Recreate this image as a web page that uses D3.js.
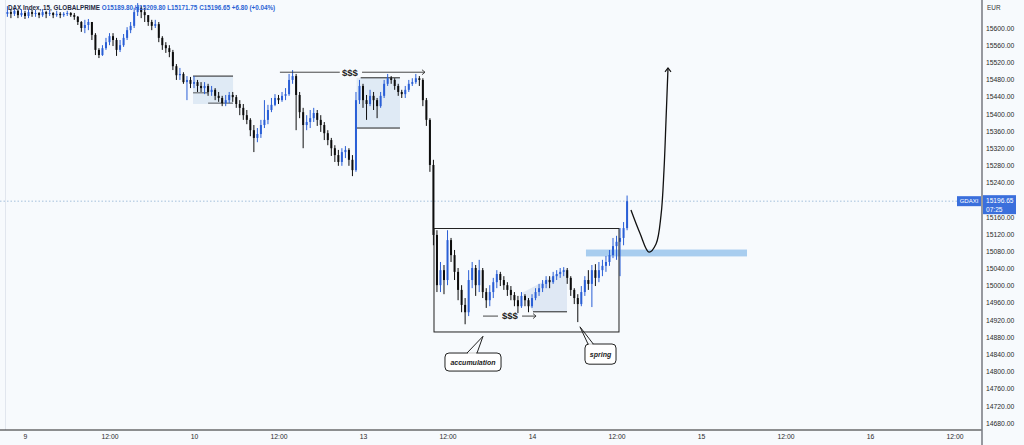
<!DOCTYPE html>
<html><head><meta charset="utf-8">
<script src="https://cdn.jsdelivr.net/npm/d3@7"></script>
<style>html,body{margin:0;padding:0;background:#f7fafd;}svg{display:block;}</style>
</head><body>
<svg id="chart" width="1024" height="445"></svg>
<script>
// ---------- data ----------
const firstOpen = 15633;
const barStartHour = -2.5;   // hours relative to day "9" 00:00 (trading-day axis)
const barStepHour = 0.5;
const closes = [
15637,15633,15640,15630,15635,15628,15637,15633,15635,15630,
15637,15633,15635,15630,15633,15630,15633,15635,15630,15626,
15614,15600,15607,15614,15584,15549,15537,15553,15567,15581,
15572,15549,15560,15577,15595,15605,15637,15647,15637,15630,
15614,15605,15609,15577,15560,15553,15544,15511,15490,15493,
15474,15479,15470,15474,15465,15460,15465,15451,15456,15442,
15437,15425,15432,15444,15439,15423,15414,15397,15386,15362,
15344,15353,15374,15386,15409,15421,15437,15432,15442,15446,
15479,15488,15444,15404,15374,15381,15390,15402,15386,15374,
15355,15339,15320,15304,15288,15311,15316,15293,15269,15432,
15465,15432,15423,15442,15432,15418,15442,15470,15483,15479,
15465,15451,15446,15456,15470,15474,15483,15479,15432,15386,
15281,15118,15001,15036,15013,15106,15071,15032,14990,14955,
14938,15013,15041,15001,15036,14985,14966,14985,15008,15027,
15013,15001,14990,14978,14966,14952,14976,14966,14952,14971,
14985,14994,15004,15013,15008,15022,15027,15032,15036,15018,
14990,14971,14957,14985,15013,15004,15036,15018,15036,15046,
15055,15071,15092,15102,15111,15134,15196.65];
const highs = [
15651,15644,15647,15642,15644,15640,15644,15642,15642,15637,
15644,15640,15642,15637,15640,15637,15637,15640,15637,15635,
15628,15616,15619,15621,15614,15588,15553,15560,15577,15588,
15588,15577,15572,15586,15602,15614,15647,15658,15651,15647,
15630,15619,15619,15614,15581,15567,15560,15549,15516,15507,
15497,15488,15486,15488,15479,15474,15474,15470,15465,15460,
15451,15442,15444,15451,15451,15444,15432,15423,15409,15390,
15374,15367,15386,15432,15421,15437,15446,15444,15451,15460,
15493,15502,15493,15451,15414,15397,15409,15414,15409,15397,
15381,15362,15344,15327,15316,15320,15325,15320,15304,15451,
15479,15470,15444,15456,15451,15437,15451,15479,15493,15488,
15483,15470,15456,15465,15479,15483,15493,15488,15483,15437,
15390,15293,15129,15055,15048,15129,15111,15083,15041,15001,
14971,15036,15055,15048,15060,15041,14994,15001,15018,15036,
15032,15022,15008,14999,14985,14976,14985,14980,14971,14980,
14994,15004,15013,15022,15022,15032,15036,15041,15043,15041,
15022,14994,14980,14999,15022,15036,15048,15050,15055,15060,
15069,15083,15111,15116,15134,15148,15209.8];
const lows = [
15626,15623,15628,15623,15626,15621,15623,15626,15626,15623,
15626,15623,15628,15623,15626,15623,15626,15628,15626,15619,
15607,15591,15588,15595,15572,15537,15530,15535,15549,15560,
15558,15535,15544,15556,15572,15588,15600,15628,15623,15614,
15605,15595,15600,15567,15549,15542,15532,15502,15479,15479,
15470,15432,15460,15460,15451,15451,15446,15442,15442,15432,
15428,15418,15418,15425,15428,15414,15397,15386,15376,15348,
15311,15334,15344,15367,15376,15404,15418,15423,15428,15432,
15442,15470,15362,15390,15320,15362,15367,15381,15372,15358,
15339,15327,15302,15288,15279,15279,15297,15279,15255,15265,
15423,15414,15386,15418,15409,15390,15414,15437,15465,15470,
15456,15442,15437,15437,15451,15465,15470,15465,15418,15372,
15265,15094,14985,14985,14980,15001,15055,15013,14966,14938,
14910,14929,14994,14976,14985,14971,14948,14952,14971,14994,
14999,14990,14976,14966,14952,14936,14948,14952,14938,14948,
14966,14976,14985,14994,14994,15004,15013,15018,15022,15004,
14976,14957,14915,14952,14976,14990,14950,14999,15008,15022,
15032,15046,15064,15060,15022,15094,15129];

const tickHours  = [0,12,24,36,48,60,72,84,96,108,120,132];
const tickLabels = ["9","12:00","10","12:00","13","12:00","14","12:00","15","12:00","16","12:00"];
const priceTicks = [14680,14720,14760,14800,14840,14880,14920,14960,15000,15040,15080,15120,15160,15200,
                    15240,15280,15320,15360,15400,15440,15480,15520,15560,15600];
const lastPrice = 15196.65;
const header = {name:"DAX Index, 15, GLOBALPRIME", o:"O15189.80", h:"H15209.80", l:"L15171.75", c:"C15196.65", chg:"+6.80 (+0.04%)"};

// annotations in (hour, price) space
const box1 = {h0:23.86, h1:29.54, top:15488, bottom:15423};
const box1Steps = [[23.86,26.0,15449],[26.0,29.54,15425]];
const box2 = {h0:47.1, h1:53.25, top:15484, bottom:15367};
const topLiq = {price:15497, h0:36.2, h1:44.7, textH:46.15, h2:47.86, h3:56.8};
const lowLiq = {price:14929, h0:65.04, h1:67.17, textH:68.87, h2:70.58, h3:72.57};
const wedge = [[70.58,14983],[76.97,15039],[76.97,14939],[72.14,14939]];
const accBox = {h0:58.08, h1:84.35, top:15133, bottom:14892};
const demandZone = {h0:79.66, h1:102.53, top:15084, bottom:15068};
const projection = [[86.05,15176],[87.33,15122],[88.61,15078],[89.61,15097],[90.32,15164],[90.74,15269],[91.03,15386],[91.31,15507]];
const callouts = [
  {text:"accumulation", h0:59.64, h1:67.6, top:14843, bottom:14801, tip:[65.04,14882], base:[62.77,64.19]},
  {text:"spring", h0:79.52, h1:83.93, top:14864, bottom:14817, tip:[78.81,14904], base:[79.95,80.7]}
];

// ---------- drawing ----------
const W = 1024, H = 445, plotRight = 982, axisY = 430;
const svg = d3.select("#chart");
const font = "'Liberation Sans', Arial, sans-serif";
svg.append("rect").attr("width",W).attr("height",H).attr("fill","#f7fafd");

const x = d3.scaleLinear().domain([-3.55,135.9]).range([0,plotRight]);
const y = d3.scaleLinear().domain([14680,15600]).range([423,28]);

const bars = closes.map((c,i)=>({
  t: barStartHour + i*barStepHour,
  o: i===0 ? firstOpen : closes[i-1], c, h: highs[i], l: lows[i]
}));

const plot = svg.append("g");
plot.append("line").attr("x1",5.5).attr("x2",5.5).attr("y1",0).attr("y2",axisY).attr("stroke","#e1e6ee");

// zones behind candles
plot.append("rect").attr("x",x(box1.h0)).attr("width",x(box1.h1)-x(box1.h0))
  .attr("y",y(box1.top)).attr("height",y(box1.bottom)-y(box1.top)).attr("fill","#dbe6f3").attr("opacity",0.85);
plot.append("line").attr("x1",x(box1.h0)).attr("x2",x(box1.h1)).attr("y1",y(box1.top)).attr("y2",y(box1.top)).attr("stroke","#222").attr("stroke-width",1);
box1Steps.forEach(s=>plot.append("line").attr("x1",x(s[0])).attr("x2",x(s[1])).attr("y1",y(s[2])).attr("y2",y(s[2])).attr("stroke","#333").attr("stroke-width",0.8));

plot.append("rect").attr("x",x(box2.h0)).attr("width",x(box2.h1)-x(box2.h0))
  .attr("y",y(box2.top)).attr("height",y(box2.bottom)-y(box2.top)).attr("fill","#dbe6f3").attr("opacity",0.85);
plot.append("line").attr("x1",x(box2.h0)+4).attr("x2",x(box2.h1)).attr("y1",y(box2.top)).attr("y2",y(box2.top)).attr("stroke","#222");
plot.append("line").attr("x1",x(box2.h0)).attr("x2",x(box2.h1)).attr("y1",y(box2.bottom)).attr("y2",y(box2.bottom)).attr("stroke","#222");

plot.append("path").attr("d", d3.line().x(d=>x(d[0])).y(d=>y(d[1]))(wedge)+"Z").attr("fill","#dbe6f3").attr("opacity",0.9);
plot.append("line").attr("x1",x(wedge[3][0])).attr("x2",x(wedge[2][0])).attr("y1",y(wedge[2][1])).attr("y2",y(wedge[2][1])).attr("stroke","#222");

plot.append("rect").attr("x",x(demandZone.h0)).attr("width",x(demandZone.h1)-x(demandZone.h0))
  .attr("y",y(demandZone.top)).attr("height",y(demandZone.bottom)-y(demandZone.top)).attr("fill","#a8cdef");

plot.append("line").attr("x1",0).attr("x2",957).attr("y1",y(lastPrice)).attr("y2",y(lastPrice))
  .attr("stroke","#8fb3d6").attr("stroke-dasharray","1.5,2").attr("stroke-width",0.8);

// candles
const up = "#2a5fd6", down = "#0d0d0d";
const cg = plot.append("g");
cg.selectAll("line.w").data(bars).join("line")
  .attr("x1",d=>x(d.t)).attr("x2",d=>x(d.t)).attr("y1",d=>y(d.h)).attr("y2",d=>y(d.l))
  .attr("stroke",d=>d.c>=d.o?up:down).attr("stroke-width",1);
cg.selectAll("rect.b").data(bars).join("rect")
  .attr("x",d=>x(d.t)-1).attr("width",2)
  .attr("y",d=>y(Math.max(d.o,d.c))).attr("height",d=>Math.max(1,Math.abs(y(d.o)-y(d.c))))
  .attr("fill",d=>d.c>=d.o?up:down);

// accumulation range box
plot.append("rect").attr("x",x(accBox.h0)).attr("width",x(accBox.h1)-x(accBox.h0))
  .attr("y",y(accBox.top)).attr("height",y(accBox.bottom)-y(accBox.top)).attr("fill","none").attr("stroke","#222").attr("stroke-width",1);

function liq(L){
  const yy = y(L.price);
  plot.append("line").attr("x1",x(L.h0)).attr("x2",x(L.h1)).attr("y1",yy).attr("y2",yy).attr("stroke","#333").attr("stroke-width",0.9);
  plot.append("line").attr("x1",x(L.h2)).attr("x2",x(L.h3)).attr("y1",yy).attr("y2",yy).attr("stroke","#333").attr("stroke-width",0.9);
  plot.append("path").attr("d",`M${x(L.h3)-3},${yy-2.5}L${x(L.h3)},${yy}L${x(L.h3)-3},${yy+2.5}`).attr("fill","none").attr("stroke","#333").attr("stroke-width",0.9);
  plot.append("text").attr("x",x(L.textH)).attr("y",yy+3.3).attr("text-anchor","middle")
    .attr("font-family",font).attr("font-size",9.5).attr("font-weight","bold").attr("fill","#222").text("$$$");
}
liq(topLiq); liq(lowLiq);

const pl = d3.line().x(d=>x(d[0])).y(d=>y(d[1])).curve(d3.curveCatmullRom.alpha(0.5));
plot.append("path").attr("d",pl(projection)).attr("fill","none").attr("stroke","#111").attr("stroke-width",1.3);
const tip = projection[projection.length-1];
plot.append("path").attr("d",`M${x(tip[0])-3},${y(tip[1])+4}L${x(tip[0])},${y(tip[1])}L${x(tip[0])+3},${y(tip[1])+4}`)
  .attr("fill","none").attr("stroke","#111").attr("stroke-width",1.1);

callouts.forEach(co=>{
  const bx0=x(co.h0), bx1=x(co.h1), by0=y(co.top), by1=y(co.bottom);
  plot.append("rect").attr("x",bx0).attr("y",by0).attr("width",bx1-bx0).attr("height",by1-by0)
    .attr("rx",4).attr("fill","#ffffff").attr("stroke","#222").attr("stroke-width",1);
  const tx=x(co.tip[0]), ty=y(co.tip[1]), b0=x(co.base[0]), b1=x(co.base[1]);
  plot.append("line").attr("x1",b0+0.8).attr("x2",b1-0.8).attr("y1",by0).attr("y2",by0).attr("stroke","#ffffff").attr("stroke-width",1.5);
  plot.append("path").attr("d",`M${b0},${by0}L${tx},${ty}L${b1},${by0}`).attr("fill","none").attr("stroke","#222").attr("stroke-width",1);
  plot.append("text").attr("x",(bx0+bx1)/2).attr("y",(by0+by1)/2+2.5).attr("text-anchor","middle")
    .attr("font-family",font).attr("font-size",7).attr("font-style","italic").attr("font-weight","bold").attr("fill","#222").text(co.text);
});

// ---------- axes ----------
const yAxis = d3.axisRight(y).tickValues(priceTicks).tickSize(0).tickPadding(4).tickFormat(d=>d.toFixed(2));
const ya = svg.append("g").attr("transform",`translate(${plotRight},0)`).call(yAxis);
ya.select(".domain").remove();
ya.selectAll("text").attr("font-family",font).attr("font-size",6.8).attr("fill","#2a2a2a");

const xAxis = d3.axisBottom(x).tickValues(tickHours).tickSize(0).tickPadding(4).tickFormat((d,i)=>tickLabels[i]);
const xa = svg.append("g").attr("transform",`translate(0,${axisY})`).call(xAxis);
xa.select(".domain").remove();
xa.selectAll("text").attr("font-family",font).attr("font-size",6.8).attr("fill","#2a2a2a");

svg.append("line").attr("x1",0).attr("x2",plotRight).attr("y1",axisY).attr("y2",axisY).attr("stroke","#222").attr("stroke-width",1);
svg.append("line").attr("x1",plotRight).attr("x2",plotRight).attr("y1",0).attr("y2",H).attr("stroke","#7d8087").attr("stroke-width",1.6);
svg.append("text").attr("x",plotRight+5).attr("y",10).attr("font-family",font).attr("font-size",6.4).attr("fill","#333").text("EUR");

const ly = y(lastPrice);
svg.append("rect").attr("x",957).attr("y",ly-5).attr("width",24).attr("height",10).attr("fill","#3a6fdc");
svg.append("text").attr("x",969).attr("y",ly+2.3).attr("text-anchor","middle").attr("font-family",font).attr("font-size",6).attr("fill","#fff").text("GDAXI");
svg.append("rect").attr("x",plotRight+1).attr("y",ly-6).attr("width",33).attr("height",19).attr("fill","#3a6fdc");
svg.append("text").attr("x",plotRight+4).attr("y",ly+2.3).attr("font-family",font).attr("font-size",6.6).attr("fill","#fff").text(lastPrice.toFixed(2));
svg.append("text").attr("x",plotRight+4).attr("y",ly+10.5).attr("font-family",font).attr("font-size",6.6).attr("fill","#fff").text("07:25");

const ht = svg.append("text").attr("x",8).attr("y",10).attr("font-family",font).attr("font-size",6.3).attr("font-weight","bold");
ht.append("tspan").attr("fill","#1f2a44").text(header.name+"  ");
[header.o,header.h,header.l,header.c,header.chg].forEach(s=>ht.append("tspan").attr("fill","#2a63d4").text(" "+s+" "));
</script>
</body></html>
